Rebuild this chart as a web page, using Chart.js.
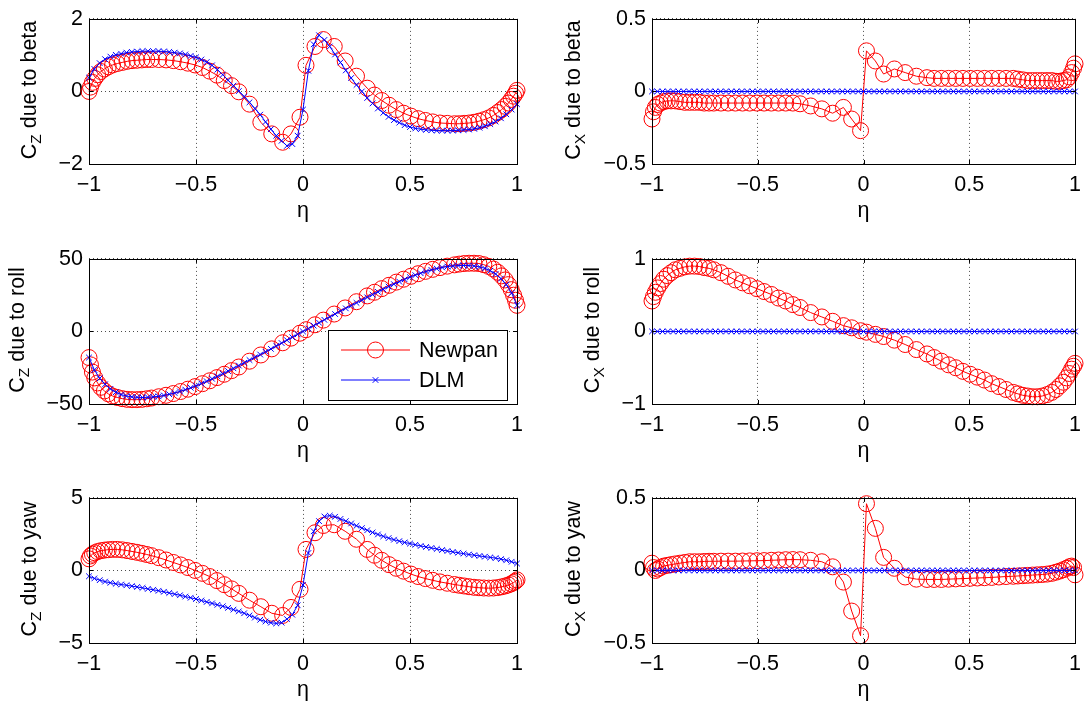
<!DOCTYPE html>
<html>
<head>
<meta charset="utf-8">
<script src="https://cdn.jsdelivr.net/npm/chart.js@4.4.0/dist/chart.umd.min.js"></script>
<style>
body { margin: 0; width: 1089px; height: 705px; overflow: hidden; background: #fff; position: relative; font-family: "Liberation Sans", Arial, sans-serif; }
canvas { position: absolute; }
.ylab { position: absolute; white-space: nowrap; font-size: 21.5px; line-height: 1; color: #000; transform: translate(-50%, -50%) rotate(-90deg); }
.ylab sub { font-size: 0.72em; vertical-align: -0.3em; line-height: 0; }
</style>
</head>
<body>
<canvas id="c1" width="540" height="226" style="left:0;top:0"></canvas>
<canvas id="c2" width="549" height="226" style="left:540px;top:0"></canvas>
<canvas id="c3" width="540" height="226" style="left:0;top:240px"></canvas>
<canvas id="c4" width="549" height="226" style="left:540px;top:240px"></canvas>
<canvas id="c5" width="540" height="226" style="left:0;top:479px"></canvas>
<canvas id="c6" width="549" height="226" style="left:540px;top:479px"></canvas>

<div class="ylab" style="left:30px;top:89.5px">C<sub>Z</sub> due to beta</div>
<div class="ylab" style="left:574px;top:89.5px">C<sub>X</sub> due to beta</div>
<div class="ylab" style="left:18px;top:329.5px">C<sub>Z</sub> due to roll</div>
<div class="ylab" style="left:593px;top:329.5px">C<sub>X</sub> due to roll</div>
<div class="ylab" style="left:30px;top:568.5px">C<sub>Z</sub> due to yaw</div>
<div class="ylab" style="left:574px;top:568.5px">C<sub>X</sub> due to yaw</div>

<script>
// spanwise stations (eta) of the two methods
const etaNewpan = [
  -1.000, -0.993, -0.984, -0.973, -0.960, -0.945, -0.928, -0.910, -0.890, -0.868,
  -0.845, -0.822, -0.799, -0.776, -0.753, -0.730, -0.708, -0.674, -0.640, -0.606,
  -0.572, -0.538, -0.504, -0.470, -0.436, -0.402, -0.368, -0.334, -0.300, -0.250,
  -0.197, -0.146, -0.095, -0.056, -0.014,
  0.014, 0.056, 0.095, 0.146, 0.197, 0.250, 0.300, 0.334, 0.368, 0.402,
  0.436, 0.470, 0.504, 0.538, 0.572, 0.606, 0.640, 0.674, 0.708, 0.730,
  0.753, 0.776, 0.799, 0.822, 0.845, 0.868, 0.890, 0.910, 0.928, 0.945,
  0.960, 0.973, 0.984, 0.993, 1.000
];
const etaDLM = [
  -1.000, -0.975, -0.950, -0.925, -0.900, -0.875, -0.850, -0.825, -0.800, -0.775,
  -0.750, -0.725, -0.700, -0.675, -0.650, -0.625, -0.600, -0.575, -0.550, -0.525,
  -0.500, -0.475, -0.450, -0.425, -0.400, -0.375, -0.350, -0.325, -0.300, -0.275,
  -0.250, -0.225, -0.200, -0.175, -0.150, -0.125, -0.100, -0.075, -0.050, -0.025,
  0.000,
  0.025, 0.050, 0.075, 0.100, 0.125, 0.150, 0.175, 0.200, 0.225, 0.250,
  0.275, 0.300, 0.325, 0.350, 0.375, 0.400, 0.425, 0.450, 0.475, 0.500,
  0.525, 0.550, 0.575, 0.600, 0.625, 0.650, 0.675, 0.700, 0.725, 0.750,
  0.775, 0.800, 0.825, 0.850, 0.875, 0.900, 0.925, 0.950, 0.975, 1.000
];

// C_Z due to beta
const czBetaNewpan = [
  0.00, 0.12, 0.25, 0.36, 0.46, 0.55, 0.62, 0.68, 0.73, 0.77,
  0.80, 0.83, 0.85, 0.86, 0.87, 0.88, 0.88, 0.88, 0.87, 0.85,
  0.82, 0.78, 0.73, 0.66, 0.56, 0.45, 0.30, 0.16, -0.01, -0.35,
  -0.85, -1.17, -1.40, -1.17, -0.71,
  0.72, 1.24, 1.43, 1.24, 0.84, 0.42, 0.09, -0.10, -0.25, -0.38,
  -0.50, -0.60, -0.68, -0.75, -0.80, -0.84, -0.87, -0.88, -0.89, -0.89,
  -0.88, -0.87, -0.85, -0.82, -0.78, -0.73, -0.66, -0.58, -0.50, -0.41,
  -0.32, -0.22, -0.13, -0.05, 0.03
];
const czBetaDLM = [
  0.38, 0.62, 0.78, 0.89, 0.96, 1.01, 1.04, 1.07, 1.09, 1.10,
  1.11, 1.11, 1.11, 1.11, 1.10, 1.09, 1.07, 1.05, 1.02, 0.98,
  0.94, 0.88, 0.81, 0.72, 0.60, 0.46, 0.31, 0.16, 0.01, -0.14,
  -0.30, -0.47, -0.64, -0.84, -1.04, -1.22, -1.36, -1.50, -1.45, -1.22,
  -0.50,
  0.57, 1.30, 1.55, 1.42, 1.24, 1.02, 0.80, 0.58, 0.37, 0.18,
  0.00, -0.18, -0.33, -0.47, -0.59, -0.70, -0.79, -0.86, -0.93, -0.98,
  -1.02, -1.04, -1.06, -1.07, -1.08, -1.08, -1.08, -1.08, -1.07, -1.06,
  -1.05, -1.03, -1.00, -0.96, -0.90, -0.83, -0.74, -0.63, -0.50, -0.35
];

// C_X due to beta
const cxBetaNewpan = [
  -0.19, -0.14, -0.11, -0.09, -0.08, -0.07, -0.065, -0.065, -0.065, -0.07,
  -0.075, -0.075, -0.075, -0.075, -0.08, -0.08, -0.08, -0.08, -0.08, -0.08,
  -0.08, -0.08, -0.08, -0.08, -0.08, -0.08, -0.08, -0.08, -0.085, -0.10,
  -0.12, -0.15, -0.11, -0.19, -0.27,
  0.28, 0.21, 0.12, 0.155, 0.13, 0.105, 0.095, 0.09, 0.09, 0.09,
  0.09, 0.09, 0.09, 0.09, 0.09, 0.09, 0.09, 0.09, 0.09, 0.085,
  0.08, 0.075, 0.075, 0.075, 0.075, 0.075, 0.075, 0.07, 0.07, 0.075,
  0.08, 0.10, 0.13, 0.16, 0.19
];
// DLM gives no C_X contribution
const cxDLM = [
  0, 0, 0, 0, 0, 0, 0, 0, 0, 0,
  0, 0, 0, 0, 0, 0, 0, 0, 0, 0,
  0, 0, 0, 0, 0, 0, 0, 0, 0, 0,
  0, 0, 0, 0, 0, 0, 0, 0, 0, 0,
  0,
  0, 0, 0, 0, 0, 0, 0, 0, 0, 0,
  0, 0, 0, 0, 0, 0, 0, 0, 0, 0,
  0, 0, 0, 0, 0, 0, 0, 0, 0, 0,
  0, 0, 0, 0, 0, 0, 0, 0, 0, 0
];

// C_Z due to roll
const czRollNewpan = [
  -18, -23, -28, -32, -35.5, -38.5, -41, -43, -44.5, -45.5,
  -46.3, -46.8, -47, -47, -46.8, -46.4, -45.9, -45, -44, -42.8,
  -41.4, -39.8, -38, -36, -34, -31.8, -29.5, -27, -24.5, -20.5,
  -16.2, -12, -7.8, -4.6, -1.2,
  1.2, 4.6, 7.8, 12, 16.2, 20.5, 24.5, 27, 29.5, 31.8,
  34, 36, 38, 39.8, 41.4, 42.8, 44, 45, 45.9, 46.4,
  46.8, 47, 47, 46.8, 46, 44.8, 43, 40.8, 38.3, 35.5,
  32.3, 28.8, 25, 21.5, 18
];
const czRollDLM = [
  -18.0, -26.5, -32.3, -36.4, -39.6, -41.9, -43.5, -44.5, -45.1, -45.4,
  -45.5, -45.4, -45.1, -44.7, -44.1, -43.3, -42.4, -41.3, -40.1, -38.8,
  -37.4, -35.9, -34.3, -32.6, -30.9, -29.1, -27.3, -25.4, -23.5, -21.6,
  -19.7, -17.8, -15.9, -14.0, -12.0, -10.0, -8.0, -6.0, -4.0, -2.0,
  0.0,
  2.0, 4.0, 6.0, 8.0, 10.0, 12.0, 14.0, 15.9, 17.8, 19.7,
  21.6, 23.5, 25.4, 27.3, 29.1, 30.9, 32.6, 34.3, 35.9, 37.4,
  38.8, 40.1, 41.3, 42.4, 43.3, 44.1, 44.7, 45.1, 45.4, 45.5,
  45.4, 45.1, 44.5, 43.5, 41.9, 39.6, 36.4, 32.3, 26.5, 18.0
];

// C_X due to roll
const cxRollNewpan = [
  0.42, 0.48, 0.54, 0.60, 0.66, 0.72, 0.77, 0.81, 0.85, 0.87,
  0.89, 0.90, 0.90, 0.895, 0.88, 0.87, 0.85, 0.81, 0.76, 0.71,
  0.67, 0.63, 0.59, 0.55, 0.51, 0.46, 0.42, 0.37, 0.33, 0.26,
  0.20, 0.14, 0.08, 0.05, 0.01,
  -0.01, -0.04, -0.07, -0.12, -0.18, -0.25, -0.31, -0.36, -0.41, -0.46,
  -0.50, -0.55, -0.59, -0.63, -0.67, -0.72, -0.76, -0.80, -0.84, -0.86,
  -0.88, -0.89, -0.90, -0.90, -0.89, -0.87, -0.84, -0.80, -0.75, -0.70,
  -0.64, -0.58, -0.52, -0.48, -0.44
];

// C_Z due to yaw
const czYawNewpan = [
  0.80, 1.00, 1.12, 1.22, 1.30, 1.36, 1.40, 1.43, 1.45, 1.45,
  1.42, 1.37, 1.31, 1.25, 1.18, 1.10, 1.02, 0.88, 0.72, 0.55,
  0.38, 0.20, 0.00, -0.20, -0.42, -0.70, -0.98, -1.27, -1.58, -2.05,
  -2.50, -2.95, -3.10, -2.55, -1.30,
  1.45, 2.60, 3.10, 3.15, 2.70, 2.15, 1.45, 1.05, 0.70, 0.40,
  0.15, -0.05, -0.25, -0.42, -0.56, -0.68, -0.79, -0.88, -0.97, -1.02,
  -1.07, -1.12, -1.16, -1.19, -1.21, -1.22, -1.21, -1.18, -1.13, -1.07,
  -1.00, -0.92, -0.83, -0.75, -0.65
];
const czYawDLM = [
  -0.40, -0.55, -0.67, -0.77, -0.85, -0.92, -0.97, -1.02, -1.08, -1.14,
  -1.20, -1.27, -1.33, -1.40, -1.47, -1.55, -1.63, -1.71, -1.80, -1.88,
  -1.97, -2.07, -2.17, -2.27, -2.37, -2.47, -2.58, -2.70, -2.82, -2.95,
  -3.10, -3.25, -3.40, -3.52, -3.60, -3.65, -3.60, -3.35, -3.05, -2.40,
  -1.00,
  1.20, 2.70, 3.40, 3.72, 3.78, 3.70, 3.55, 3.40, 3.24, 3.08,
  2.92, 2.77, 2.62, 2.48, 2.35, 2.23, 2.12, 2.02, 1.93, 1.85,
  1.77, 1.69, 1.62, 1.55, 1.48, 1.41, 1.34, 1.28, 1.22, 1.16,
  1.10, 1.05, 1.00, 0.95, 0.90, 0.85, 0.78, 0.70, 0.60, 0.48
];

// C_X due to yaw
const cxYawNewpan = [
  0.05, 0.02, 0.00, 0.01, 0.02, 0.03, 0.035, 0.04, 0.045, 0.05,
  0.055, 0.06, 0.06, 0.06, 0.062, 0.063, 0.063, 0.064, 0.064, 0.064,
  0.065, 0.066, 0.067, 0.068, 0.07, 0.072, 0.074, 0.075, 0.074, 0.07,
  0.06, 0.025, -0.08, -0.28, -0.45,
  0.46, 0.29, 0.09, 0.015, -0.045, -0.06, -0.062, -0.062, -0.062, -0.06,
  -0.058, -0.056, -0.054, -0.052, -0.05, -0.048, -0.045, -0.042, -0.04, -0.038,
  -0.036, -0.034, -0.032, -0.03, -0.028, -0.025, -0.02, -0.012, -0.004, 0.005,
  0.015, 0.025, 0.03, 0.02, -0.03
];

// axis ticks
const etaTicks = [-1, -0.5, 0, 0.5, 1];
const czBetaTicks = [-2, 0, 2];
const cxBetaTicks = [-0.5, 0, 0.5];
const czRollTicks = [-50, 0, 50];
const cxRollTicks = [-1, 0, 1];
const czYawTicks = [-5, 0, 5];
const cxYawTicks = [-0.5, 0, 0.5];

const FONT = { family: 'Liberation Sans', size: 21.5 };

function fmt(v) {
  return String(v).replace('-', '\u2212');
}

function pairs(xs, ys) {
  return xs.map((x, i) => ({ x: x, y: ys[i] }));
}

// axes box with inward tick marks, like the original plot
const boxPlugin = {
  id: 'axesBox',
  afterDraw(chart) {
    const ctx = chart.ctx;
    const a = chart.chartArea;
    const xs = chart.scales.x, ys = chart.scales.y;
    ctx.save();
    ctx.strokeStyle = '#000';
    ctx.lineWidth = 1;
    ctx.strokeRect(Math.round(a.left) + 0.5, Math.round(a.top) + 0.5,
      Math.round(a.right - a.left), Math.round(a.bottom - a.top));
    ctx.beginPath();
    xs.ticks.forEach(t => {
      const px = Math.round(xs.getPixelForValue(t.value)) + 0.5;
      ctx.moveTo(px, a.bottom); ctx.lineTo(px, a.bottom - 4);
      ctx.moveTo(px, a.top); ctx.lineTo(px, a.top + 4);
    });
    ys.ticks.forEach(t => {
      const py = Math.round(ys.getPixelForValue(t.value)) + 0.5;
      ctx.moveTo(a.left, py); ctx.lineTo(a.left + 4, py);
      ctx.moveTo(a.right, py); ctx.lineTo(a.right - 4, py);
    });
    ctx.stroke();

    if (chart.options.plugins.boxLegend && chart.options.plugins.boxLegend.show) {
      const w = 179, h = 70;
      const x0 = Math.round(a.right) - 10 - w;
      const y0 = Math.round(a.bottom) - 4 - h;
      ctx.fillStyle = '#fff';
      ctx.fillRect(x0, y0, w, h);
      ctx.strokeStyle = '#000';
      ctx.strokeRect(x0 + 0.5, y0 + 0.5, w, h);
      chart.data.datasets.forEach((ds, i) => {
        const ly = y0 + 20 + i * 30;
        ctx.strokeStyle = ds.borderColor;
        ctx.lineWidth = 1;
        ctx.beginPath();
        ctx.moveTo(x0 + 13, ly);
        ctx.lineTo(x0 + 82, ly);
        ctx.stroke();
        ctx.fillStyle = 'rgba(0,0,0,0)';
        Chart.helpers.drawPoint(ctx, { pointStyle: ds.pointStyle, radius: ds.pointRadius, borderWidth: 1, rotation: 0 }, x0 + 47.5, ly);
        ctx.fillStyle = '#000';
        ctx.font = FONT.size + 'px "' + FONT.family + '"';
        ctx.textBaseline = 'middle';
        ctx.textAlign = 'left';
        ctx.fillText(ds.label, x0 + 91, ly + 1);
      });
    }
    ctx.restore();
  }
};

function makeChart(id, newpanY, dlmX, dlmY, yTicks, yWidth, padRight, legend) {
  const ctx = document.getElementById(id).getContext('2d');
  return new Chart(ctx, {
    type: 'scatter',
    data: {
      datasets: [
        {
          label: 'Newpan',
          data: pairs(etaNewpan, newpanY),
          showLine: true,
          borderColor: '#ff0000',
          borderWidth: 1,
          pointStyle: 'circle',
          pointRadius: 8,
          pointBorderWidth: 1,
          pointBorderColor: '#ff0000',
          pointBackgroundColor: 'rgba(0,0,0,0)',
          clip: false,
          order: 1
        },
        {
          label: 'DLM',
          data: pairs(dlmX, dlmY),
          showLine: true,
          borderColor: '#0000ff',
          borderWidth: 1,
          pointStyle: 'crossRot',
          pointRadius: 4,
          pointBorderWidth: 1,
          pointBorderColor: '#0000ff',
          pointBackgroundColor: 'rgba(0,0,0,0)',
          clip: false,
          order: 0
        }
      ]
    },
    options: {
      responsive: false,
      animation: false,
      devicePixelRatio: 1,
      layout: { padding: { top: 15, right: padRight, left: 0, bottom: 0 } },
      plugins: {
        legend: { display: false },
        tooltip: { enabled: false },
        boxLegend: { show: legend }
      },
      scales: {
        x: {
          type: 'linear',
          min: -1,
          max: 1,
          afterBuildTicks: s => { s.ticks = etaTicks.map(v => ({ value: v })); },
          afterFit: s => { s.height = 62; },
          ticks: { font: FONT, color: '#000', padding: 8, maxRotation: 0, autoSkip: false, callback: v => fmt(v) },
          grid: { color: 'rgba(0,0,0,0.7)', lineWidth: 1, drawTicks: false },
          border: { display: false, dash: [1, 3] },
          title: { display: true, text: 'η', font: FONT, color: '#000', padding: { top: 0, bottom: 2 } }
        },
        y: {
          type: 'linear',
          min: yTicks[0],
          max: yTicks[yTicks.length - 1],
          afterBuildTicks: s => { s.ticks = yTicks.map(v => ({ value: v })); },
          afterFit: s => { s.width = yWidth; },
          ticks: { font: FONT, color: '#000', padding: 6, autoSkip: false, callback: v => fmt(v) },
          grid: { color: 'rgba(0,0,0,0.7)', lineWidth: 1, drawTicks: false },
          border: { display: false, dash: [1, 3] }
        }
      }
    },
    plugins: [boxPlugin]
  });
}

makeChart('c1', czBetaNewpan, etaDLM, czBetaDLM, czBetaTicks, 89, 23, false);
makeChart('c2', cxBetaNewpan, etaDLM, cxDLM, cxBetaTicks, 112, 9, false);
makeChart('c3', czRollNewpan, etaDLM, czRollDLM, czRollTicks, 89, 23, true);
makeChart('c4', cxRollNewpan, etaDLM, cxDLM, cxRollTicks, 112, 9, false);
makeChart('c5', czYawNewpan, etaDLM, czYawDLM, czYawTicks, 89, 23, false);
makeChart('c6', cxYawNewpan, etaDLM, cxDLM, cxYawTicks, 112, 9, false);
</script>
</body>
</html>
